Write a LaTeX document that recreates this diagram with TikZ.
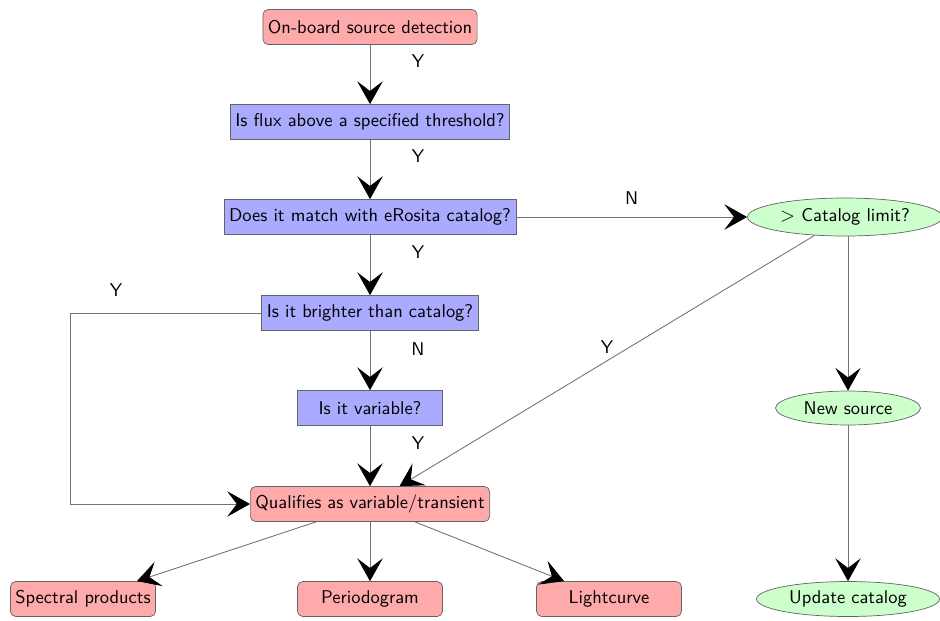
\documentclass[tikz,border=0pt]{standalone}
\usepackage{tikz}
\usetikzlibrary{arrows.meta,shapes.geometric}
\definecolor{procpink}{RGB}{255,170,170}
\definecolor{testblue}{RGB}{170,170,255}
\definecolor{catgreen}{RGB}{204,255,204}
\definecolor{edgegray}{RGB}{100,100,100}
\definecolor{linegray}{RGB}{115,115,115}

\begin{document}
\begin{tikzpicture}[
    x=1cm, y=1cm,
    font=\fontsize{10.5}{12.5}\selectfont\sffamily,
    pinkbox/.style={
      rectangle, rounded corners=3pt,
      minimum height=0.7cm, minimum width=2.9cm,
      fill=procpink, draw=edgegray, line width=0.4pt,
      inner xsep=0.1cm,
    },
    bluebox/.style={
      rectangle,
      minimum height=0.7cm, minimum width=2.9cm,
      fill=testblue, draw=edgegray, line width=0.4pt,
      inner xsep=0.1cm,
    },
    greenell/.style={
      ellipse, fill=catgreen, draw=edgegray, line width=0.4pt,
      inner sep=1pt,
    },
    arr/.style={-{Stealth[length=13pt,width=14.5pt,inset=5.5pt,color=black]}, draw=linegray, line width=0.5pt},
    lab/.style={text=black, inner sep=1pt},
  ]
  \useasboundingbox (0,0) rectangle (18.8,-12.4);

  % ---- main column ----
  \node[pinkbox] (onboard) at (7.4, -0.54) {On-board source detection};
  \node[bluebox] (flux)     at (7.4, -2.44) {Is flux above a specified threshold?};
  \node[bluebox] (erosita)  at (7.4, -4.34) {Does it match with eRosita catalog?};
  \node[bluebox] (brighter) at (7.4, -6.26) {Is it brighter than catalog?};
  \node[bluebox] (variable) at (7.4, -8.16) {Is it variable?};
  \node[pinkbox] (qualify)  at (7.4, -10.08) {Qualifies as variable/transient};

  \draw[arr] (onboard) -- node[lab, pos=0.28, xshift=0.96cm] {Y} (flux);
  \draw[arr] (flux) -- node[lab, pos=0.28, xshift=0.96cm] {Y} (erosita);
  \draw[arr] (erosita) -- node[lab, pos=0.28, xshift=0.96cm] {Y} (brighter);
  \draw[arr] (brighter) -- node[lab, pos=0.3, xshift=0.96cm] {N} (variable);
  \draw[arr] (variable) -- node[lab, pos=0.28, xshift=0.96cm] {Y} (qualify);

  % ---- bright sources loop round the left ----
  \coordinate (loopc) at (1.4, -6.26);
  \draw[arr] (brighter.west) -- node[lab, pos=0.76, yshift=0.46cm] {Y} (loopc) |- (qualify.west);

  % ---- catalog column ----
  \node[greenell, minimum width=3.9cm, minimum height=0.76cm] (catlim) at (16.9, -4.34) {$>$ Catalog limit?};
  \node[greenell, minimum width=2.9cm, minimum height=0.68cm] (newsrc) at (16.96, -8.16) {New source};
  \node[greenell, minimum width=3.66cm, minimum height=0.7cm] (update) at (16.96, -11.98) {Update catalog};

  \draw[arr] (erosita) -- node[lab, midway, yshift=0.38cm] {N} (catlim);
  \draw[arr] (catlim) -- node[lab, midway, yshift=0.27cm] {Y} (qualify);
  \draw[arr] (catlim.south -| newsrc.north) -- (newsrc);
  \draw[arr] (newsrc) -- (update);

  % ---- products ----
  \node[pinkbox] (spectral) at (1.66, -11.98)  {Spectral products};
  \node[pinkbox] (period)   at (7.4, -11.98)   {Periodogram};
  \node[pinkbox] (lcurve)   at (12.18, -11.98) {Lightcurve};

  \draw[arr] (qualify) -- (spectral);
  \draw[arr] (qualify) -- (period);
  \draw[arr] (qualify) -- (lcurve);
\end{tikzpicture}
\end{document}
